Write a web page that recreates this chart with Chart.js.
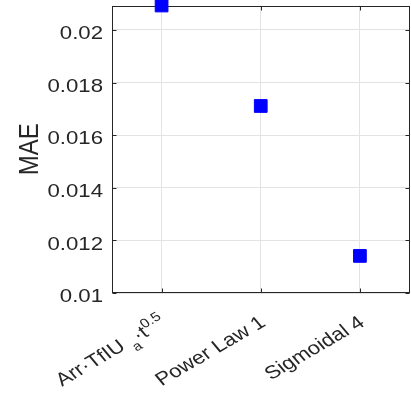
<!DOCTYPE html>
<html>
<head>
<meta charset="utf-8">
<script src="https://cdn.jsdelivr.net/npm/chart.js@4.4.1/dist/chart.umd.min.js"></script>
<style>
    html, body { margin: 0; padding: 0; background: #fff; }
    #wrap { width: 411px; height: 396px; position: relative; }
</style>
</head>
<body>
<div id="wrap"><canvas id="maeChart"></canvas></div>
<script>
// data
const categories = ['Arr·TfIU _a·t^{0.5}', 'Power Law 1', 'Sigmoidal 4'];
const maeValues = [0.02093, 0.01711, 0.01141];
const yTicks = [0.01, 0.012, 0.014, 0.016, 0.018, 0.02];
const yMin = 0.01;
const yMax = 0.02093;
const yTitle = 'MAE';

const FONT = '"Liberation Sans", Arial, Helvetica, sans-serif';
const TEXT = '#262626';
const STRETCH = 1.2;   // reference text is a bit wide

// tiny TeX-ish parser: _x / _{..} subscript, ^x / ^{..} superscript
function parseTex(str) {
    const parts = [];
    let buf = '';
    let i = 0;
    while (i < str.length) {
        const c = str[i];
        if (c === '_' || c === '^') {
            if (buf) { parts.push({ t: buf, kind: 0 }); buf = ''; }
            let arg;
            if (str[i + 1] === '{') {
                const end = str.indexOf('}', i + 2);
                arg = str.slice(i + 2, end);
                i = end + 1;
            } else {
                arg = str[i + 1];
                i += 2;
            }
            parts.push({ t: arg, kind: c === '_' ? -1 : 1 });
        } else {
            buf += c;
            i++;
        }
    }
    if (buf) parts.push({ t: buf, kind: 0 });
    return parts;
}

const fmt = (v) => String(+Number(v).toFixed(3));

// box + inward ticks + all the text, like matlab axes
const axesBox = {
    id: 'axesBox',
    beforeDatasetsDraw(chart) {
        const { ctx, chartArea: a, scales } = chart;
        ctx.save();
        ctx.strokeStyle = TEXT;
        ctx.lineWidth = 1;
        const L = Math.round(a.left) + 0.5, R = Math.round(a.right) - 0.5;
        const T = Math.round(a.top) + 0.5, B = Math.round(a.bottom) - 0.5;
        ctx.strokeRect(L, T, R - L, B - T);
        const tl = 4;
        ctx.beginPath();
        yTicks.forEach(v => {
            const y = Math.round(scales.y.getPixelForValue(v)) + 0.5;
            ctx.moveTo(L, y); ctx.lineTo(L + tl, y);
            ctx.moveTo(R, y); ctx.lineTo(R - tl, y);
        });
        categories.forEach((c, i) => {
            const x = Math.round(scales.x.getPixelForValue(i)) + 0.5;
            ctx.moveTo(x, B); ctx.lineTo(x, B - tl);
            ctx.moveTo(x, T); ctx.lineTo(x, T + tl);
        });
        ctx.stroke();
        ctx.restore();
    },
    afterDraw(chart) {
        const { ctx, chartArea: a, scales } = chart;
        ctx.save();
        ctx.fillStyle = TEXT;

        // y tick labels
        ctx.font = '18.5px ' + FONT;
        ctx.textAlign = 'right';
        ctx.textBaseline = 'alphabetic';
        yTicks.forEach(v => {
            const y = scales.y.getPixelForValue(v);
            ctx.save();
            ctx.translate(a.left - 9, y + 9.3);
            ctx.scale(STRETCH, 1);
            ctx.fillText(fmt(v), 0, 0);
            ctx.restore();
        });

        // y title
        ctx.save();
        ctx.font = '24px ' + FONT;
        ctx.textAlign = 'center';
        ctx.translate(37.5, (a.top + a.bottom) / 2);
        ctx.scale(1.15, 1);
        ctx.rotate(-Math.PI / 2);
        ctx.fillText(yTitle, 0, 0);
        ctx.restore();

        // x tick labels, rotated
        ctx.textAlign = 'left';
        categories.forEach((lab, i) => {
            const parts = parseTex(lab);
            let total = 0;
            parts.forEach(p => {
                p.size = p.kind === 0 ? 18.5 : 13;
                p.dy = p.kind === -1 ? 7 : (p.kind === 1 ? -8 : 0);
                ctx.font = p.size + 'px ' + FONT;
                p.w = ctx.measureText(p.t).width;
                total += p.w;
            });
            const x = scales.x.getPixelForValue(i);
            ctx.save();
            ctx.translate(x + 6, a.bottom + 32);
            ctx.scale(STRETCH, 1);
            ctx.rotate(-35 * Math.PI / 180);
            let cx = -total;
            parts.forEach(p => {
                ctx.font = p.size + 'px ' + FONT;
                ctx.fillText(p.t, cx, p.dy);
                cx += p.w;
            });
            ctx.restore();
        });
        ctx.restore();
    }
};

const canvas = document.getElementById('maeChart');
new Chart(canvas, {
    type: 'line',
    data: {
        labels: categories,
        datasets: [{
            data: maeValues,
            showLine: false,
            pointStyle: 'rect',
            pointRadius: 9,
            pointBorderWidth: 1,
            backgroundColor: '#0000ff',
            borderColor: '#0000ff',
            clip: false
        }]
    },
    options: {
        responsive: true,
        maintainAspectRatio: false,
        animation: false,
        events: [],
        layout: { autoPadding: false, padding: { top: 5.5, right: 1.5, left: 0, bottom: 0 } },
        plugins: {
            legend: { display: false },
            tooltip: { enabled: false }
        },
        scales: {
            x: {
                type: 'category',
                offset: true,
                grid: { color: '#e3e3e3', drawTicks: false, offset: false },
                border: { display: false },
                ticks: { display: false },
                afterFit: (s) => { s.height = 103; s.paddingLeft = 0; s.paddingRight = 0; }
            },
            y: {
                min: yMin,
                max: yMax,
                grid: { color: '#e3e3e3', drawTicks: false },
                border: { display: false },
                afterBuildTicks: (s) => { s.ticks = yTicks.map(v => ({ value: v })); },
                afterFit: (s) => { s.width = 112; s.paddingTop = 0; s.paddingBottom = 0; },
                ticks: { display: false }
            }
        }
    },
    plugins: [axesBox]
});
</script>
</body>
</html>
